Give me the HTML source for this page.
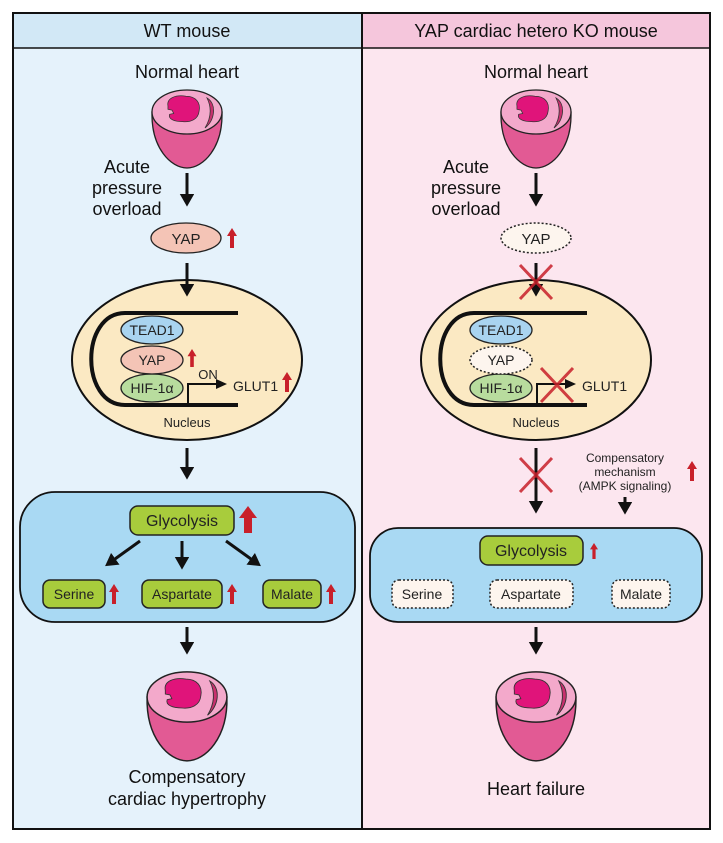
<!DOCTYPE html>
<html><head><meta charset="utf-8"><style>
html,body{margin:0;padding:0;background:#fff;}
svg{display:block;font-family:"Liberation Sans",sans-serif;}
</style></head><body>
<svg width="723" height="843" viewBox="0 0 723 843" xmlns="http://www.w3.org/2000/svg">
<defs>
<marker id="ah" markerWidth="6" markerHeight="6" refX="3" refY="2.4" orient="auto" markerUnits="strokeWidth">
<path d="M0,0 L4.2,2.4 L0,4.8 Z" fill="#111"/></marker>
<g id="heart">
<path d="M-35,0 C-36,36 -16,56 0,56 C16,56 36,36 35,0 Z" fill="#e25a94" stroke="#222" stroke-width="1.3"/>
<ellipse cx="0" cy="0" rx="35" ry="22" fill="#f3a9cb" stroke="#222" stroke-width="1.3"/>
<g transform="translate(-1,-1) scale(0.82)">
<path d="M-22,-6 C-24,-16 -12,-20 0,-18 C12,-18 18,-10 16,0 C15,10 6,14 -4,13 C-14,13 -22,10 -20,4 L-15,3 L-17,-1 L-22,-2 Z" fill="#e0147a" stroke="#333" stroke-width="0.9"/>
</g>
<path d="M20,-14 C30,-8 28,8 18,16 C24,6 25,-4 20,-14 Z" fill="#c8306e" stroke="#333" stroke-width="0.8"/>
</g>
<g id="up"><path d="M0,-10 L-5,-2 L-2,-2 L-2,10 L2,10 L2,-2 L5,-2 Z" fill="#c8202a"/></g>
</defs>
<rect x="13" y="13" width="349" height="816" fill="#e5f2fb"/>
<rect x="362" y="13" width="348" height="816" fill="#fce6ef"/>
<rect x="13" y="13" width="349" height="35" fill="#d2e8f6"/>
<rect x="362" y="13" width="348" height="35" fill="#f5c6dc"/>
<rect x="13" y="13" width="697" height="816" fill="none" stroke="#111" stroke-width="2"/>
<line x1="362" y1="13" x2="362" y2="829" stroke="#111" stroke-width="2"/>
<line x1="13" y1="48" x2="710" y2="48" stroke="#111" stroke-width="1.5"/>
<g font-size="18" fill="#111" text-anchor="middle">
<text x="187" y="37">WT mouse</text>
<text x="536" y="37">YAP cardiac hetero KO mouse</text>
<text x="187" y="78">Normal heart</text>
<text x="536" y="78">Normal heart</text>
<text x="127" y="173">Acute</text><text x="127" y="194">pressure</text><text x="127" y="215">overload</text>
<text x="466" y="173">Acute</text><text x="466" y="194">pressure</text><text x="466" y="215">overload</text>
<text x="187" y="783">Compensatory</text>
<text x="187" y="805">cardiac hypertrophy</text>
<text x="536" y="795">Heart failure</text>
</g>
<use href="#heart" transform="translate(187,112)"/>
<use href="#heart" transform="translate(536,112)"/>
<use href="#heart" transform="translate(187,697) scale(1.14)"/>
<use href="#heart" transform="translate(536,697) scale(1.14)"/>

<ellipse cx="186" cy="238" rx="35" ry="15" fill="#f4c4b6" stroke="#222" stroke-width="1.3"/>
<text x="186" y="244" font-size="15" text-anchor="middle" fill="#222">YAP</text>
<use href="#up" transform="translate(232,238)"/>
<ellipse cx="536" cy="238" rx="35" ry="15" fill="#fdf5ee" stroke="#222" stroke-width="1.5" stroke-dasharray="2,2"/>
<text x="536" y="244" font-size="15" text-anchor="middle" fill="#222">YAP</text>

<g id="nuc">
<ellipse cx="187" cy="360" rx="115" ry="80" fill="#fbe9c3" stroke="#111" stroke-width="2"/>
<path d="M238,313 L125,313 C80,313 80,405 125,405 L238,405" fill="none" stroke="#111" stroke-width="4"/>
<ellipse cx="152" cy="330" rx="31" ry="14" fill="#a9d4f0" stroke="#222" stroke-width="1.3"/>
<text x="152" y="335" font-size="14" text-anchor="middle" fill="#222">TEAD1</text>
<ellipse cx="152" cy="388" rx="31" ry="14" fill="#b8dc9e" stroke="#222" stroke-width="1.3"/>
<text x="152" y="393" font-size="14" text-anchor="middle" fill="#222">HIF-1α</text>
<text x="187" y="427" font-size="13" text-anchor="middle" fill="#222">Nucleus</text>
<path d="M188,405 L188,384 L218,384" fill="none" stroke="#111" stroke-width="2"/>
<path d="M216,379 L227,384 L216,389 Z" fill="#111"/>
</g>
<use href="#nuc" transform="translate(349,0)"/>

<g stroke="#111" stroke-width="3" marker-end="url(#ah)">
<line x1="187" y1="173" x2="187" y2="203"/>
<line x1="536" y1="173" x2="536" y2="203"/>
<line x1="187" y1="263" x2="187" y2="293"/>
<line x1="536" y1="263" x2="536" y2="293"/>
<line x1="187" y1="448" x2="187" y2="476"/>
<line x1="536" y1="448" x2="536" y2="510"/>
<line x1="625" y1="497" x2="625" y2="511"/>
<line x1="187" y1="627" x2="187" y2="651"/>
<line x1="536" y1="627" x2="536" y2="651"/>
</g>

<ellipse cx="152" cy="360" rx="31" ry="14" fill="#f4c4b6" stroke="#222" stroke-width="1.3"/>
<text x="152" y="365" font-size="14" text-anchor="middle" fill="#222">YAP</text>
<use href="#up" transform="translate(192,358) scale(0.9)"/>
<text x="208" y="379" font-size="13" text-anchor="middle" fill="#222">ON</text>
<text x="233" y="391" font-size="14" fill="#222">GLUT1</text>
<use href="#up" transform="translate(287,382)"/>
<ellipse cx="501" cy="360" rx="31" ry="14" fill="#fdf5ee" stroke="#222" stroke-width="1.5" stroke-dasharray="2,2"/>
<text x="501" y="365" font-size="14" text-anchor="middle" fill="#222">YAP</text>
<text x="582" y="391" font-size="14" fill="#222">GLUT1</text>

<g stroke="#c8202a" stroke-width="3" opacity="0.85">
<path d="M520,265 L552,299 M552,265 L520,299"/>
<path d="M541,368 L573,402 M573,368 L541,402"/>
<path d="M520,458 L552,492 M552,458 L520,492"/>
</g>
<g font-size="12" text-anchor="middle" fill="#222">
<text x="625" y="462">Compensatory</text>
<text x="625" y="476">mechanism</text>
<text x="625" y="490">(AMPK signaling)</text>
</g>
<use href="#up" transform="translate(692,471)"/>

<rect x="20" y="492" width="335" height="130" rx="35" fill="#a9d9f3" stroke="#111" stroke-width="1.8"/>
<rect x="130" y="506" width="104" height="29" rx="8" fill="#a8cc3c" stroke="#222" stroke-width="1.5"/>
<text x="182" y="526" font-size="16" text-anchor="middle" fill="#222">Glycolysis</text>
<path d="M248,506 L239,518 L244,518 L244,533 L252,533 L252,518 L257,518 Z" fill="#c8202a"/>
<g stroke="#111" stroke-width="3" marker-end="url(#ah)">
<line x1="140" y1="541" x2="108" y2="564"/>
<line x1="182" y1="541" x2="182" y2="566"/>
<line x1="226" y1="541" x2="258" y2="564"/>
</g>
<g font-size="14" text-anchor="middle" fill="#222">
<rect x="43" y="580" width="62" height="28" rx="7" fill="#a8cc3c" stroke="#222" stroke-width="1.5"/>
<text x="74" y="599">Serine</text>
<rect x="142" y="580" width="80" height="28" rx="7" fill="#a8cc3c" stroke="#222" stroke-width="1.5"/>
<text x="182" y="599">Aspartate</text>
<rect x="263" y="580" width="58" height="28" rx="7" fill="#a8cc3c" stroke="#222" stroke-width="1.5"/>
<text x="292" y="599">Malate</text>
</g>
<use href="#up" transform="translate(114,594)"/>
<use href="#up" transform="translate(232,594)"/>
<use href="#up" transform="translate(331,594)"/>

<rect x="370" y="528" width="332" height="94" rx="28" fill="#a9d9f3" stroke="#111" stroke-width="1.8"/>
<rect x="480" y="536" width="103" height="29" rx="8" fill="#a8cc3c" stroke="#222" stroke-width="1.5"/>
<text x="531" y="556" font-size="16" text-anchor="middle" fill="#222">Glycolysis</text>
<use href="#up" transform="translate(594,551) scale(0.8)"/>
<g font-size="14" text-anchor="middle" fill="#222">
<rect x="392" y="580" width="61" height="28" rx="7" fill="#fdf5ee" stroke="#222" stroke-width="1.5" stroke-dasharray="2,2"/>
<text x="422" y="599">Serine</text>
<rect x="490" y="580" width="83" height="28" rx="7" fill="#fdf5ee" stroke="#222" stroke-width="1.5" stroke-dasharray="2,2"/>
<text x="531" y="599">Aspartate</text>
<rect x="612" y="580" width="58" height="28" rx="7" fill="#fdf5ee" stroke="#222" stroke-width="1.5" stroke-dasharray="2,2"/>
<text x="641" y="599">Malate</text>
</g>
</svg>
</body></html>
